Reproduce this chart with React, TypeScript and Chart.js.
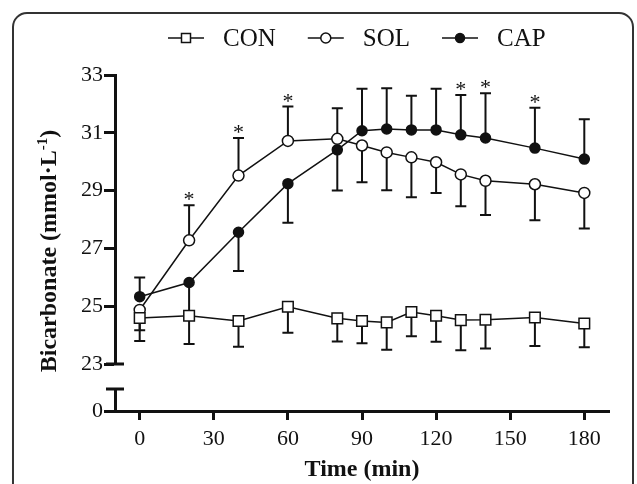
import React, { useEffect, useRef } from 'react';
import { Chart, registerables } from 'chart.js';

Chart.register(...registerables);

// ---------- data ----------
const timePoints = [0, 20, 40, 60, 80, 90, 100, 110, 120, 130, 140, 160, 180];

const conMean = [24.59, 24.67, 24.49, 24.98, 24.58, 24.49, 24.44, 24.8, 24.67, 24.52, 24.53, 24.61, 24.4];
// signed error bars: positive = drawn upward, negative = drawn downward
const conErr = [-0.79, -0.98, -0.89, -0.9, -0.8, -0.77, -0.95, -0.84, -0.9, -1.04, -0.99, -0.99, -0.82];

const solMean = [24.87, 27.28, 29.52, 30.72, 30.79, 30.56, 30.32, 30.15, 29.98, 29.56, 29.34, 29.22, 28.92];
const solErr = [-0.7, 1.21, 1.3, 1.19, 1.06, -1.27, -1.31, -1.38, -1.06, -1.1, -1.18, -1.25, -1.23];

const capMean = [25.33, 25.82, 27.56, 29.24, 30.41, 31.07, 31.13, 31.1, 31.1, 30.93, 30.82, 30.47, 30.09];
const capErr = [0.66, -1.2, -1.34, -1.35, -1.41, 1.45, 1.41, 1.18, 1.42, 1.38, 1.55, 1.4, 1.38];

const solSignificant = [20, 40, 60];
const capSignificant = [130, 140, 160];

const seriesLabels = ['CON', 'SOL', 'CAP'];
const xTickValues = [0, 30, 60, 90, 120, 150, 180];
const yUpperTicks = [23, 25, 27, 29, 31, 33];
const yLowerTicks = [0];

const xTitle = 'Time (min)';
const yTitleMain = 'Bicarbonate (mmol·L';
const yTitleSup = '-1';
const yTitleTail = ')';

// ---------- styling ----------
const FONT = "'Liberation Serif', 'Times New Roman', Times, serif";
const INK = '#111';

const toPoints = (mean: number[]) => timePoints.map((t, i) => ({ x: t, y: mean[i] }));

const decorations = {
  id: 'decorations',
  beforeDraw(chart: any) {
    const { ctx, width, height } = chart;
    ctx.save();
    ctx.fillStyle = '#fff';
    ctx.fillRect(0, 0, width, height);
    ctx.restore();
  },
  beforeDatasetsDraw(chart: any) {
    const { ctx } = chart;
    const xs = chart.scales.x;
    const ys = chart.scales.yTop;
    ctx.save();
    ctx.strokeStyle = INK;
    ctx.lineWidth = 2;
    chart.data.datasets.forEach((ds: any) => {
      ds.errors.forEach((e: number, i: number) => {
        const m = ds.means[i];
        const px = xs.getPixelForValue(timePoints[i]);
        const p0 = ys.getPixelForValue(m);
        const p1 = ys.getPixelForValue(m + e);
        ctx.beginPath();
        ctx.moveTo(px, p0);
        ctx.lineTo(px, p1);
        ctx.moveTo(px - 5.5, p1);
        ctx.lineTo(px + 5.5, p1);
        ctx.stroke();
      });
    });
    ctx.restore();
  },
  afterDraw(chart: any) {
    const { ctx } = chart;
    const xs = chart.scales.x;
    const ys = chart.scales.yTop;
    const yl = chart.scales.yLow;

    // significance asterisks
    ctx.save();
    ctx.fillStyle = INK;
    ctx.font = `22px ${FONT}`;
    ctx.textAlign = 'center';
    ctx.textBaseline = 'alphabetic';
    const star = (t: number, mean: number[], err: number[]) => {
      const i = timePoints.indexOf(t);
      const px = xs.getPixelForValue(t);
      const py = ys.getPixelForValue(mean[i] + err[i]);
      ctx.fillText('*', px, py + 1);
    };
    solSignificant.forEach((t) => star(t, solMean, solErr));
    capSignificant.forEach((t) => star(t, capMean, capErr));
    ctx.restore();

    // axis break caps
    ctx.save();
    ctx.strokeStyle = INK;
    ctx.lineWidth = 3;
    const ax = ys.right;
    ctx.beginPath();
    ctx.moveTo(ax - 9, ys.bottom);
    ctx.lineTo(ax + 9, ys.bottom);
    ctx.moveTo(ax - 9, yl.top);
    ctx.lineTo(ax + 9, yl.top);
    ctx.stroke();
    ctx.restore();

    // y axis title
    ctx.save();
    ctx.fillStyle = INK;
    ctx.translate(50, 251);
    ctx.rotate(-Math.PI / 2);
    ctx.font = `bold 24px ${FONT}`;
    const w1 = ctx.measureText(yTitleMain).width;
    const w3 = ctx.measureText(yTitleTail).width;
    ctx.font = `bold 15px ${FONT}`;
    const w2 = ctx.measureText(yTitleSup).width;
    let tx = -(w1 + w2 + w3) / 2;
    ctx.textAlign = 'left';
    ctx.textBaseline = 'middle';
    ctx.font = `bold 24px ${FONT}`;
    ctx.fillText(yTitleMain, tx, 0);
    tx += w1;
    ctx.textBaseline = 'alphabetic';
    ctx.font = `bold 15px ${FONT}`;
    ctx.fillText(yTitleSup, tx, -3);
    tx += w2;
    ctx.textBaseline = 'middle';
    ctx.font = `bold 24px ${FONT}`;
    ctx.fillText(yTitleTail, tx, 0);
    ctx.restore();

    // legend
    ctx.save();
    let lx = 168;
    const ly = 38;
    chart.data.datasets.forEach((ds: any) => {
      ctx.strokeStyle = INK;
      ctx.lineWidth = 1.5;
      ctx.beginPath();
      ctx.moveTo(lx, ly);
      ctx.lineTo(lx + 36, ly);
      ctx.stroke();
      const cx = lx + 18;
      ctx.fillStyle = ds.pointBackgroundColor;
      ctx.beginPath();
      if (ds.pointStyle === 'rect') {
        ctx.rect(cx - 4.5, ly - 4.5, 9, 9);
      } else {
        ctx.arc(cx, ly, ds.legendRadius, 0, Math.PI * 2);
      }
      ctx.fill();
      ctx.stroke();
      ctx.fillStyle = INK;
      ctx.font = `25px ${FONT}`;
      ctx.textBaseline = 'alphabetic';
      ctx.textAlign = 'left';
      const textX = lx + 36 + 19;
      ctx.fillText(ds.label, textX, 46);
      lx = textX + ctx.measureText(ds.label).width + 32;
    });
    ctx.restore();

    // rounded frame
    ctx.save();
    ctx.strokeStyle = '#333';
    ctx.lineWidth = 2;
    ctx.beginPath();
    (ctx as any).roundRect(13, 13, 620, 540, 14);
    ctx.stroke();
    ctx.restore();
  },
};

const tickFont = { family: FONT, size: 22 };

function buildConfig(): any {
  const means = [conMean, solMean, capMean];
  const errs = [conErr, solErr, capErr];
  const styles = [
    { pointStyle: 'rect', pointRadius: 7.5, bg: '#fff', legendRadius: 4.5 },
    { pointStyle: 'circle', pointRadius: 5.5, bg: '#fff', legendRadius: 5 },
    { pointStyle: 'circle', pointRadius: 5, bg: INK, legendRadius: 4.5 },
  ];
  return {
    type: 'line',
    data: {
      datasets: seriesLabels.map((label, k) => ({
        label,
        data: toPoints(means[k]),
        means: means[k],
        errors: errs[k],
        yAxisID: 'yTop',
        xAxisID: 'x',
        borderColor: INK,
        borderWidth: 1.5,
        tension: 0,
        fill: false,
        pointStyle: styles[k].pointStyle,
        pointRadius: styles[k].pointRadius,
        pointHoverRadius: styles[k].pointRadius,
        pointBackgroundColor: styles[k].bg,
        pointBorderColor: INK,
        pointBorderWidth: 1.5,
        legendRadius: styles[k].legendRadius,
      })),
    },
    options: {
      responsive: false,
      animation: false,
      events: [],
      layout: { padding: { top: 75, right: 28, bottom: 0, left: 0 } },
      plugins: {
        legend: { display: false },
        tooltip: { enabled: false },
        title: { display: false },
      },
      scales: {
        x: {
          type: 'linear',
          position: 'bottom',
          min: -10,
          max: 190,
          afterBuildTicks: (s: any) => {
            s.ticks = xTickValues.map((v) => ({ value: v }));
          },
          afterFit: (s: any) => {
            s.height = 73;
          },
          ticks: { font: tickFont, color: INK, padding: 6, maxRotation: 0, autoSkip: false },
          grid: { display: true, drawOnChartArea: false, drawTicks: true, tickLength: 9, tickWidth: 3, tickColor: INK, color: INK },
          border: { display: true, width: 3, color: INK },
          title: { display: true, text: xTitle, color: INK, font: { family: FONT, size: 24, weight: 'bold' }, padding: { top: 0, bottom: 0 } },
        },
        yLow: {
          type: 'linear',
          position: 'left',
          stack: 'yBroken',
          stackWeight: 22,
          weight: 1,
          min: 0,
          max: 1,
          afterBuildTicks: (s: any) => {
            s.ticks = yLowerTicks.map((v) => ({ value: v }));
          },
          afterFit: (s: any) => {
            s.width = 115;
          },
          ticks: { font: tickFont, color: INK, padding: 1, autoSkip: false },
          grid: { display: true, drawOnChartArea: false, drawTicks: true, tickLength: 11, tickWidth: 3, tickColor: INK, color: INK },
          border: { display: true, width: 3, color: INK },
        },
        yGap: {
          type: 'linear',
          position: 'left',
          stack: 'yBroken',
          stackWeight: 25,
          weight: 2,
          min: 0,
          max: 1,
          display: false,
          afterFit: (s: any) => {
            s.width = 115;
          },
        },
        yTop: {
          type: 'linear',
          position: 'left',
          stack: 'yBroken',
          stackWeight: 289,
          weight: 3,
          min: 23,
          max: 33,
          afterBuildTicks: (s: any) => {
            s.ticks = yUpperTicks.map((v) => ({ value: v }));
          },
          afterFit: (s: any) => {
            s.width = 115;
          },
          ticks: { font: tickFont, color: INK, padding: 1, autoSkip: false },
          grid: { display: true, drawOnChartArea: false, drawTicks: true, tickLength: 11, tickWidth: 3, tickColor: INK, color: INK },
          border: { display: true, width: 3, color: INK },
        },
      },
    },
    plugins: [decorations],
  };
}

export default function App() {
  const ref = useRef<HTMLCanvasElement>(null);
  useEffect(() => {
    if (!ref.current) return;
    const chart = new Chart(ref.current, buildConfig());
    return () => chart.destroy();
  }, []);
  return (
    <div style={{ position: 'fixed', left: 0, top: 0, width: 637, height: 484, background: '#fff' }}>
      <canvas ref={ref} width={637} height={484} style={{ display: 'block', width: 637, height: 484 }} />
    </div>
  );
}
